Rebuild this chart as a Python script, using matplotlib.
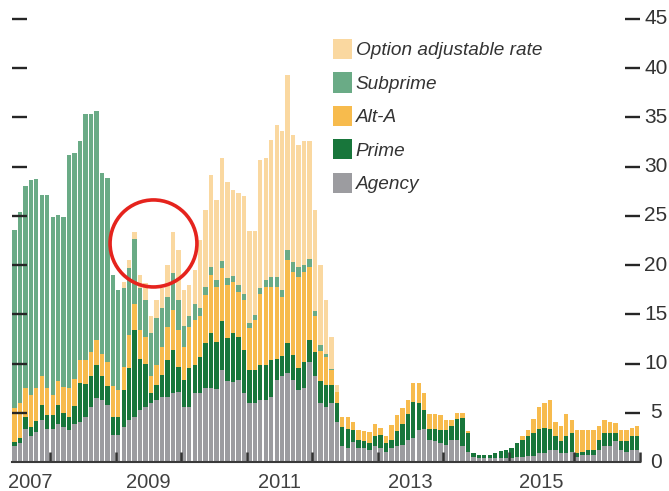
import numpy as np
import matplotlib
matplotlib.use("Agg")
import matplotlib.pyplot as plt
import matplotlib.transforms as mtransforms
from matplotlib.patches import Ellipse, Patch

# ---------------- data (monthly, Jun 2007 - Dec 2016, percent) ----------------
start_year, start_month = 2007, 6
year_labels = ["2007", "2009", "2011", "2013", "2015"]

agency = [
    1.6, 1.9, 3.4, 2.6, 3.0, 4.3, 3.4, 3.4, 3.9, 3.6,
    3.3, 3.9, 4.1, 4.6, 5.6, 6.5, 6.3, 5.8, 2.7, 2.7,
    3.6, 4.3, 4.6, 5.3, 5.6, 6.0, 6.3, 6.6, 6.6, 7.0,
    7.1, 5.6, 5.6, 7.0, 7.0, 7.5, 7.5, 7.4, 9.3, 8.2,
    8.1, 8.3, 7.0, 6.0, 6.0, 6.3, 6.3, 6.6, 8.3, 8.7,
    9.0, 8.3, 7.3, 7.5, 10.2, 8.7, 6.0, 5.6, 6.0, 4.1,
    1.6, 1.4, 2.0, 1.4, 1.4, 1.2, 1.6, 1.4, 1.0, 1.4,
    1.6, 1.7, 2.2, 2.4, 3.2, 3.4, 2.2, 2.1, 1.9, 1.7,
    2.2, 2.2, 1.6, 1.0, 0.5, 0.4, 0.4, 0.4, 0.4, 0.4,
    0.4, 0.4, 0.5, 0.5, 0.6, 0.6, 0.9, 0.9, 1.2, 1.2,
    0.9, 0.9, 1.0, 0.5, 0.7, 0.7, 0.7, 1.2, 1.6, 1.6,
    2.1, 1.2, 1.0, 1.2, 1.2,
]
prime = [
    0.4, 0.5, 1.2, 1.0, 1.2, 1.5, 1.4, 1.4, 1.9, 1.4,
    1.3, 1.8, 3.9, 3.3, 3.1, 3.4, 2.4, 1.9, 1.9, 1.9,
    3.7, 5.2, 8.8, 5.2, 4.4, 1.0, 1.5, 2.2, 3.8, 4.4,
    2.6, 2.7, 3.9, 2.9, 3.7, 4.6, 5.6, 4.8, 5.0, 4.4,
    5.0, 4.4, 4.4, 3.3, 3.3, 3.6, 3.6, 3.8, 2.2, 2.1,
    3.1, 2.6, 2.2, 2.7, 2.2, 2.5, 2.2, 2.2, 1.8, 1.9,
    2.0, 2.0, 1.3, 0.8, 0.7, 0.7, 1.0, 1.3, 0.9, 0.8,
    1.5, 2.2, 2.7, 3.7, 2.8, 1.9, 1.2, 1.3, 1.4, 1.5,
    1.5, 2.2, 2.9, 1.9, 0.4, 0.3, 0.3, 0.3, 0.5, 0.7,
    0.8, 1.0, 1.4, 1.7, 2.0, 2.3, 2.5, 2.6, 2.2, 1.4,
    1.2, 1.7, 1.9, 0.4, 0.3, 0.5, 0.5, 1.0, 1.3, 1.3,
    0.8, 0.9, 1.1, 1.4, 1.4,
]
alt_a = [
    3.5, 3.6, 2.9, 3.2, 3.3, 2.9, 2.7, 2.0, 2.4, 2.6,
    2.9, 2.7, 2.4, 2.5, 2.5, 2.5, 2.3, 2.5, 3.1, 2.7,
    2.4, 3.4, 2.6, 2.9, 2.7, 1.7, 2.1, 2.9, 3.3, 4.0,
    3.7, 3.4, 4.2, 4.5, 4.1, 4.9, 5.9, 5.6, 5.4, 5.4,
    5.2, 4.6, 5.1, 4.3, 5.1, 7.2, 7.9, 7.4, 7.3, 6.0,
    8.4, 8.4, 9.3, 9.1, 7.4, 3.6, 3.1, 2.9, 1.5, 1.1,
    1.0, 1.2, 0.8, 1.0, 1.0, 1.1, 1.3, 0.8, 0.7, 1.6,
    1.7, 1.6, 1.4, 1.9, 2.0, 1.7, 1.5, 1.5, 1.5, 1.1,
    0.6, 0.6, 0.5, 0.2, 0.0, 0.0, 0.0, 0.0, 0.0, 0.0,
    0.0, 0.0, 0.0, 0.4, 0.7, 1.5, 2.2, 2.5, 2.9, 1.5,
    1.6, 2.3, 1.4, 2.4, 2.2, 2.0, 2.1, 1.5, 1.4, 1.2,
    1.1, 1.1, 1.1, 0.9, 1.1,
]
subprime = [
    18.1, 19.4, 20.5, 21.8, 21.2, 18.4, 19.6, 18.1, 16.9, 17.3,
    23.7, 23.0, 22.2, 24.9, 24.2, 23.3, 18.4, 18.6, 11.3, 10.2,
    8.0, 6.8, 6.7, 4.3, 3.8, 4.4, 4.7, 3.9, 3.1, 3.8,
    3.1, 2.1, 1.1, 1.7, 0.8, 0.8, 0.8, 0.7, 0.7, 0.7,
    0.6, 0.7, 0.6, 0.5, 0.5, 0.6, 0.7, 1.0, 1.0, 0.7,
    1.0, 1.0, 1.0, 0.7, 0.8, 0.5, 0.6, 0.3, 0.1, 0.0,
    0.0, 0.0, 0.0, 0.0, 0.0, 0.0, 0.0, 0.0, 0.0, 0.0,
    0.0, 0.0, 0.0, 0.0, 0.0, 0.0, 0.0, 0.0, 0.0, 0.0,
    0.0, 0.0, 0.0, 0.0, 0.0, 0.0, 0.0, 0.0, 0.0, 0.0,
    0.0, 0.0, 0.0, 0.0, 0.0, 0.0, 0.0, 0.0, 0.0, 0.0,
    0.0, 0.0, 0.0, 0.0, 0.0, 0.0, 0.0, 0.0, 0.0, 0.0,
    0.0, 0.0, 0.0, 0.0, 0.0,
]
option_arm = [
    0.0, 0.0, 0.0, 0.0, 0.0, 0.0, 0.0, 0.0, 0.0, 0.0,
    0.0, 0.0, 0.0, 0.0, 0.0, 0.0, 0.0, 0.0, 0.0, 0.0,
    0.6, 0.8, 0.7, 1.3, 1.7, 1.7, 1.9, 2.1, 3.2, 4.2,
    5.0, 3.7, 3.2, 3.4, 7.0, 7.8, 9.4, 8.1, 10.5, 9.7,
    8.7, 9.3, 9.9, 9.4, 8.6, 13.0, 12.4, 13.9, 15.4, 16.1,
    17.8, 12.9, 12.4, 12.6, 12.0, 10.3, 8.1, 5.5, 3.3, 0.7,
    0.0, 0.0, 0.0, 0.0, 0.0, 0.0, 0.0, 0.0, 0.0, 0.0,
    0.0, 0.0, 0.0, 0.0, 0.0, 0.0, 0.0, 0.0, 0.0, 0.0,
    0.0, 0.0, 0.0, 0.0, 0.0, 0.0, 0.0, 0.0, 0.0, 0.0,
    0.0, 0.0, 0.0, 0.0, 0.0, 0.0, 0.0, 0.0, 0.0, 0.0,
    0.0, 0.0, 0.0, 0.0, 0.0, 0.0, 0.0, 0.0, 0.0, 0.0,
    0.0, 0.0, 0.0, 0.0, 0.0,
]

series_labels = ["Agency", "Prime", "Alt-A", "Subprime", "Option adjustable rate"]
series_colors = ["#9c9ca0", "#18763b", "#f7bb4d", "#6aab86", "#fad8a0"]
y_ticks = [0, 5, 10, 15, 20, 25, 30, 35, 40, 45]

# ---------------- figure ----------------
plt.rcParams["font.family"] = ["Liberation Sans", "DejaVu Sans"]
fig = plt.figure(figsize=(6.69, 4.91), dpi=100)
W, H = 669, 491
ax = fig.add_axes([12 / W, 29 / H, 628 / W, 443 / H])

n = len(agency)
x = np.arange(n)
bottom = np.zeros(n)
for vals, col, lab in zip([agency, prime, alt_a, subprime, option_arm],
                          series_colors, series_labels):
    v = np.array(vals, dtype=float)
    ax.bar(x, v, width=0.8, bottom=bottom, color=col, linewidth=0, label=lab)
    bottom += v

ax.set_xlim(-0.45, n - 0.5)
ax.set_ylim(0, 45)

for s in ["top", "left", "right"]:
    ax.spines[s].set_visible(False)
ax.spines["bottom"].set_color("#3a3a3a")
ax.spines["bottom"].set_linewidth(1.5)

# y ticks: inward dashes on both sides, numbers on the right
ax.set_yticks(y_ticks)
ax.tick_params(axis="y", left=True, right=True, direction="in", length=10.5,
               width=1.7, colors="#262626", labelleft=False, labelright=False)
t0 = ax.yaxis.get_major_ticks()[0]
t0.tick1line.set_visible(False)
t0.tick2line.set_visible(False)

ytrans = mtransforms.blended_transform_factory(ax.transAxes, ax.transData)
for v in y_ticks:
    ax.text(1 + 16 / 628, v, str(v), transform=ytrans, ha="center", va="center",
            fontsize=15, color="#333333")

# x ticks at year boundaries (January), year labels at mid-year
first_jan = 12 - start_month + 1  # index of Jan 2008 bar
xt = [first_jan - 0.5 + 12 * i for i in range(10)]
ax.set_xticks(xt)
ax.tick_params(axis="x", direction="in", length=7, width=1.8, colors="#333333",
               labelbottom=False)
xtrans = mtransforms.blended_transform_factory(ax.transData, ax.transAxes)
for lab in year_labels:
    yr = int(lab)
    pos = first_jan - 0.5 + 12 * (yr - 2008) + 6
    pos = max(pos, 2.85)
    ax.text(pos, -26 / 443, lab, transform=xtrans, ha="center", va="baseline",
            fontsize=14.5, color="#404040")

# legend (top to bottom: option ARM ... agency)
handles = [Patch(facecolor=c, edgecolor="none") for c in series_colors][::-1]
leg = fig.legend(handles, series_labels[::-1], loc="upper left",
                 bbox_to_anchor=(333 / W, 1 - 39 / H), frameon=False,
                 borderpad=0, borderaxespad=0, handlelength=1.0, handleheight=1.25,
                 handletextpad=0.2, labelspacing=0.68,
                 prop={"style": "italic", "size": 13.7})
for t in leg.get_texts():
    t.set_color("#333333")

# red circle annotation
circ = Ellipse((25.45, 22.2), width=15.9, height=8.84, fill=False,
               edgecolor="#e5231d", linewidth=2.6, zorder=10, clip_on=False)
ax.add_patch(circ)

fig.savefig("out.png", dpi=100, facecolor="white")
